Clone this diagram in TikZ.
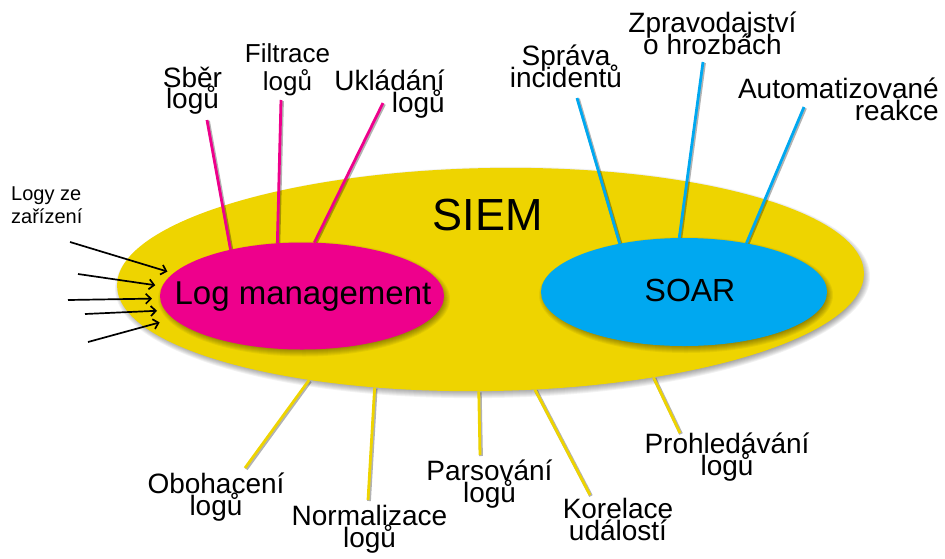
\documentclass[tikz,border=0pt]{standalone}
\usepackage{fontspec}
\setmainfont{Liberation Sans}
\usetikzlibrary{shapes.geometric,arrows.meta}

\definecolor{siemyellow}{RGB}{238,212,0}
\definecolor{logpink}{RGB}{238,0,140}
\definecolor{soarblue}{RGB}{0,168,240}

\newcommand\lblfont[2]{\fontsize{#1}{#2}\selectfont\lineskiplimit=-100pt\relax}

\pgfdeclarelayer{yshade}
\pgfdeclarelayer{yspokes}
\pgfdeclarelayer{siemlayer}
\pgfdeclarelayer{cshade}
\pgfdeclarelayer{cspokes}
\pgfsetlayers{yshade,yspokes,siemlayer,cshade,cspokes,main}

\begin{document}
\begin{tikzpicture}[x=1pt,y=-1pt,
  lbl/.style={inner sep=0pt, align=center, font={\lblfont{28}{21.5}}},
  blob/.style={ellipse, draw=none, inner sep=0pt},
  haze/.style={fill=black, fill opacity=0.05},
  spoke/.style={line width=2.8pt,
    preaction={draw=black, draw opacity=0.3, line width=3.8pt,
      transform canvas={xshift=1pt,yshift=-1pt}}},
  feed/.style={draw=black, line width=1.7pt,
    -{Straight Barb[length=5pt,width=10pt]}}
]
\useasboundingbox (0,0) rectangle (945,558);

% the three areas
\begin{pgfonlayer}{siemlayer}
  \node[blob, fill=siemyellow, minimum width=747pt, minimum height=223pt,
        rotate=1] (siem) at (490.5,279.5) {};
\end{pgfonlayer}
\node[blob, fill=logpink, minimum width=284pt, minimum height=107pt] (lm) at (302,296) {};
\node[blob, fill=soarblue, minimum width=286pt, minimum height=108pt] (soar) at (684,292) {};

% soft drop shadows under the areas
\begin{pgfonlayer}{yshade}
  \foreach \k in {0,...,9}
    \fill[haze, rotate around={1:(siem.center)}]
      ([shift={(2,3)}]siem.center) ellipse [x radius={368.5+\k}, y radius={106.5+\k}];
\end{pgfonlayer}
\begin{pgfonlayer}{cshade}
  \foreach \k in {0,...,9} {
    \fill[haze] ([shift={(2,3)}]lm.center) ellipse [x radius={137+\k}, y radius={48.5+\k}];
    \fill[haze] ([shift={(2,3)}]soar.center) ellipse [x radius={138+\k}, y radius={49+\k}];
  }
\end{pgfonlayer}

\node[anchor=base, inner sep=0pt, font=\fontsize{45}{50}\selectfont] (siemtext) at (487.5,230) {SIEM};
\node[anchor=base, inner sep=0pt, font=\fontsize{33}{38}\selectfont] (lmtext) at (303,304.5) {Log management};
\node[anchor=base, inner sep=0pt, font=\fontsize{32}{38}\selectfont] (soartext) at (690,301) {SOAR};

% labels (placed on the baseline of their last line)
\node[lbl, anchor=base] (sber) at (192.5,108.5) {Sběr\\logů};
\node[lbl, anchor=base, font={\lblfont{26}{28}}] (filtr) at (287.5,90) {Filtrace\\logů};
\node[lbl, anchor=base east, align=right] (uklad) at (445,112) {Ukládání\\logů};
\node[lbl, anchor=base] (sprava) at (566,87) {Správa\\incidentů};
\node[lbl, anchor=base] (zprav) at (712.5,54) {Zpravodajství\\o hrozbách};
\node[lbl, anchor=base east, align=right] (autom) at (939,120) {Automatizované\\reakce};
\node[lbl, anchor=base west, align=left, font={\lblfont{20}{22.5}}] (logy) at (11,223) {Logy ze\\zařízení};
\node[lbl, anchor=base] (oboh) at (216,515) {Obohacení\\logů};
\node[lbl, anchor=base] (norm) at (369.5,547) {Normalizace\\logů};
\node[lbl, anchor=base] (pars) at (489.5,502) {Parsování\\logů};
\node[lbl, anchor=base] (korel) at (618,540) {Korelace\\událostí};
\node[lbl, anchor=base] (prohl) at (727,475) {Prohledávání\\logů};

% free ends of the spokes
\coordinate (p1) at (207,120);
\coordinate (p2) at (281,100);
\coordinate (p3) at (383,103);
\coordinate (b1) at (577,98);
\coordinate (b2) at (703,62);
\coordinate (b3) at (804,107);
\coordinate (y1) at (245,468);
\coordinate (y2) at (368,500);
\coordinate (y3) at (480,455);
\coordinate (y4) at (590,495);
\coordinate (y5) at (680,433);

% incoming log sources
\coordinate (a1) at (70,242);
\coordinate (a2) at (78,274);
\coordinate (a3) at (68,300);
\coordinate (a4) at (85,314);
\coordinate (a5) at (88,342);

\begin{pgfonlayer}{cspokes}
  \draw[spoke, logpink] (lm.147) -- (p1);
  \draw[spoke, logpink] (lm.115) -- (p2);
  \draw[spoke, logpink] (lm.77) -- (p3);
  \draw[spoke, soarblue] (soar.143) -- (b1);
  \draw[spoke, soarblue] (soar.95) -- (b2);
  \draw[spoke, soarblue] (soar.38) -- (b3);
\end{pgfonlayer}

\begin{pgfonlayer}{yspokes}
  \draw[spoke, siemyellow] (siem.208) -- (y1);
  \draw[spoke, siemyellow] (siem.222) -- (y2);
  \draw[spoke, siemyellow] (siem.263) -- (y3);
  \draw[spoke, siemyellow] (siem.291) -- (y4);
  \draw[spoke, siemyellow] (siem.328) -- (y5);
\end{pgfonlayer}

\draw[feed, shorten >=6pt] (a1) -- (lm.170);
\draw[feed, shorten >=7pt] (a2) -- (lm.176);
\draw[feed, shorten >=8pt] (a3) -- (lm.181);
\draw[feed, shorten >=8pt] (a4) -- (lm.186);
\draw[feed, shorten >=14pt] (a5) -- (lm.190);
\end{tikzpicture}
\end{document}
